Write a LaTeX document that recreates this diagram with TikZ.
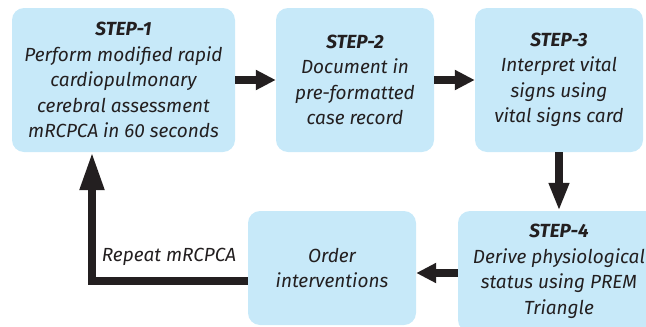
\documentclass[tikz,border=0pt]{standalone}
\usepackage{fontspec}
\setmainfont{Fira Sans}
\usetikzlibrary{arrows.meta}
\definecolor{boxblue}{RGB}{199,233,249}
\definecolor{ink}{RGB}{35,31,32}
\begin{document}
\begin{tikzpicture}[x=1pt,y=-1pt,
  box/.style={fill=boxblue,draw=none,rounded corners=12pt,align=center,inner sep=0pt,
    font=\fontsize{19}{25.5}\selectfont\itshape,text=ink},
  conn/.style={draw=ink,line width=8pt,-{Triangle[length=20pt,width=19pt]}},
  lbl/.style={font=\fontsize{19}{25.5}\selectfont\itshape,text=ink,inner sep=0pt}]
\clip (0,0) rectangle (646,327);
\useasboundingbox (0,0) rectangle (646,327);
\node[box,minimum width=223pt,minimum height=144pt] (s1) at (123.5,80)
  {\textbf{STEP-1}\\Perform modified rapid\\cardiopulmonary\\cerebral assessment\\mRCPCA in 60 seconds};
\node[box,minimum width=158pt,minimum height=144pt] (s2) at (355,80)
  {\textbf{STEP-2}\\Document in\\pre-formatted\\case record};
\node[box,minimum width=168pt,minimum height=144pt] (s3) at (559,80)
  {\textbf{STEP-3}\\Interpret vital\\signs using\\vital signs card};
\node[box,minimum width=202pt,minimum height=121pt] (s4) at (559,271.5)
  {\textbf{STEP-4}\\Derive physiological\\status using PREM\\Triangle};
\node[box,minimum width=168pt,minimum height=114pt] (ord) at (332,268)
  {Order\\interventions};
\coordinate (a4) at ([yshift=-1.5pt]s4.west);
\coordinate (ab) at ([yshift=-13pt]ord.west);
\coordinate (at1) at ([xshift=-31.5pt]s1.south);
\draw[conn] (s1.east) -- (s2.west);
\draw[conn] (s2.east) -- (s3.west);
\draw[conn,-{Triangle[length=28pt,width=19pt]}] (s3.south) -- (s4.north);
\draw[conn] (a4) -- (a4 -| ord.east);
\draw[conn,-{Triangle[length=38pt,width=23pt]}] (ab) -| (at1);
\node[lbl,anchor=base] (rep) at (169,261) {Repeat mRCPCA};
\end{tikzpicture}
\end{document}
